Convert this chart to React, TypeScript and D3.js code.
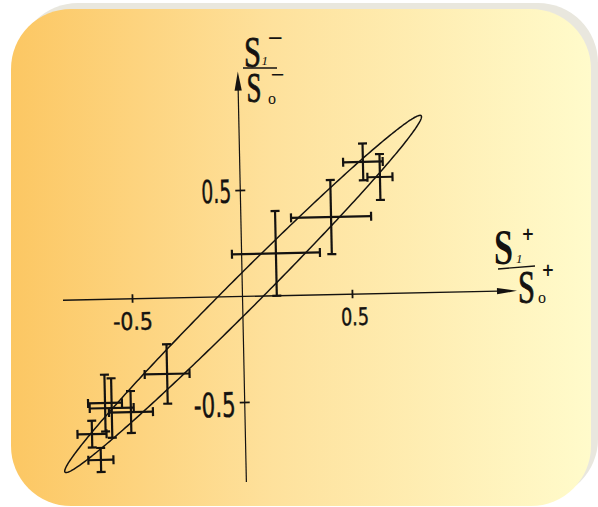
import React from 'react';
import * as d3 from 'd3';

// Tick values and their printed labels
const xTicks = [-0.5, 0.5];
const xTickLabels = ['-0.5', '0.5'];
const yTicks = [0.5, -0.5];
const yTickLabels = ['0.5', '-0.5'];

// Measured ratios S1+/S0+ (x) and S1-/S0- (y) with their errors
const pointX = [0.156, 0.41, 0.56, 0.636, -0.35, -0.635, -0.605, -0.518, -0.697, -0.659];
const pointY = [0.2, 0.366, 0.623, 0.55, -0.358, -0.489, -0.513, -0.534, -0.634, -0.757];
const errX = [0.2, 0.182, 0.09, 0.057, 0.102, 0.077, 0.1, 0.1, 0.066, 0.057];
const errY = [0.2, 0.175, 0.087, 0.108, 0.14, 0.134, 0.14, 0.099, 0.063, 0.057];

// Allowed region: ellipse given by centre, half major axis vector and half minor axis vector
const ellipseCenter = [0.003, 0.012];
const ellipseMajor = [0.826, 0.823];
const ellipseMinor = [0.05, -0.054];

// Axis extents (arrow tips at the positive ends)
const xAxisRange = [-0.816, 1.248];
const yAxisRange = [-0.875, 1.061];

const W = 598;
const H = 507;
const OX = 242.5;
const OY = 296.5;
const TILT = -1.2;

const x = d3.scaleLinear().domain([-1, 1]).range([OX - 220, OX + 220]);
const y = d3.scaleLinear().domain([-1, 1]).range([OY + 212, OY - 212]);

const ink = '#141210';
const digitFont = "'Liberation Sans Narrow', 'DejaVu Sans Condensed', 'Liberation Sans', sans-serif";
const letterFont = "'Liberation Serif', 'DejaVu Serif', serif";

export default function App() {
  const ts = d3.range(0, 361).map((d) => (d * Math.PI) / 180);
  const ellipsePts: [number, number][] = ts.map((t) => [
    ellipseCenter[0] + ellipseMajor[0] * Math.cos(t) + ellipseMinor[0] * Math.sin(t),
    ellipseCenter[1] + ellipseMajor[1] * Math.cos(t) + ellipseMinor[1] * Math.sin(t),
  ]);
  const ellipsePath = d3
    .line<[number, number]>()
    .x((d) => x(d[0]))
    .y((d) => y(d[1]))
    .curve(d3.curveLinearClosed)(ellipsePts) as string;

  const x0 = x(0);
  const y0 = y(0);
  const xTip = x(xAxisRange[1]);
  const yTip = y(yAxisRange[1]);
  const cap = 4.5;

  return (
    <svg
      width={W}
      height={H}
      viewBox={`0 0 ${W} ${H}`}
      style={{ position: 'absolute', left: 0, top: 0, display: 'block' }}
    >
      <defs>
        <linearGradient id="cardFill" x1="0" y1="0" x2="1" y2="0">
          <stop offset="0%" stopColor="#fcc763" />
          <stop offset="45%" stopColor="#fee19c" />
          <stop offset="100%" stopColor="#fffbcb" />
        </linearGradient>
      </defs>
      <rect x={0} y={0} width={W} height={H} fill="#ffffff" />
      <rect x={18} y={3} width={580} height={496} rx={60} fill="#e9e7de" />
      <rect x={11} y={9} width={580} height={497} rx={60} fill="url(#cardFill)" />

      <g transform={`rotate(${TILT}, ${OX}, ${OY})`}>
        {/* axes */}
        <line x1={x(xAxisRange[0])} y1={y0} x2={xTip - 6} y2={y0} stroke={ink} strokeWidth={1.3} />
        <path d={`M${xTip},${y0} L${xTip - 20},${y0 - 3.2} L${xTip - 20},${y0 + 3.2} Z`} fill={ink} />
        <line x1={x0} y1={y(yAxisRange[0])} x2={x0} y2={yTip + 6} stroke={ink} strokeWidth={1.2} />
        <path d={`M${x0},${yTip} L${x0 - 3.6},${yTip + 19} L${x0 + 3.6},${yTip + 19} Z`} fill={ink} />

        {/* ticks */}
        {xTicks.map((t, i) => (
          <g key={`xt${i}`}>
            <line x1={x(t)} y1={y0 - 4.5} x2={x(t)} y2={y0 + 4} stroke={ink} strokeWidth={1.8} />
            <text
              x={x(t) + (t > 0 ? 2 : 0)}
              y={y0 + 31}
              textAnchor="middle"
              fontFamily={digitFont}
              fontSize={24}
              textLength={xTickLabels[i].length === 4 ? 40 : 28}
              lengthAdjust="spacingAndGlyphs"
              fill={ink}
              stroke={ink}
              strokeWidth={0.4}
            >
              {xTickLabels[i]}
            </text>
          </g>
        ))}
        {yTicks.map((t, i) => (
          <g key={`yt${i}`}>
            <line x1={x0 - 5} y1={y(t)} x2={x0 + 5} y2={y(t)} stroke={ink} strokeWidth={1.8} />
            <text
              x={x0 - 9}
              y={y(t) + (t > 0 ? 12 : 14)}
              textAnchor="end"
              fontFamily={digitFont}
              fontSize={t > 0 ? 32 : 34}
              textLength={yTickLabels[i].length === 4 ? 42 : 30}
              lengthAdjust="spacingAndGlyphs"
              fill={ink}
              stroke={ink}
              strokeWidth={0.4}
            >
              {yTickLabels[i]}
            </text>
          </g>
        ))}

        {/* ellipse */}
        <path d={ellipsePath} fill="none" stroke={ink} strokeWidth={1.5} />

        {/* error crosses */}
        {pointX.map((px, i) => {
          const cx = x(px);
          const cy = y(pointY[i]);
          const xl = x(px - errX[i]);
          const xr = x(px + errX[i]);
          const yt = y(pointY[i] + errY[i]);
          const yb = y(pointY[i] - errY[i]);
          return (
            <g key={`p${i}`} stroke={ink} strokeWidth={2.2} strokeLinecap="butt">
              <line x1={cx} y1={yt} x2={cx} y2={yb} />
              <line x1={cx - cap} y1={yt} x2={cx + cap} y2={yt} />
              <line x1={cx - cap} y1={yb} x2={cx + cap} y2={yb} />
              <line x1={xl} y1={cy} x2={xr} y2={cy} />
              <line x1={xl} y1={cy - cap} x2={xl} y2={cy + cap} />
              <line x1={xr} y1={cy - cap} x2={xr} y2={cy + cap} />
            </g>
          );
        })}
      </g>

      {/* y axis title: S1- / S0- */}
      <g fill={ink} fontFamily={letterFont}>
        <text x={244} y={66.5} fontSize={44} textLength={17} lengthAdjust="spacingAndGlyphs" stroke={ink} strokeWidth={0.8}>S</text>
        <text x={267} y={45} fontSize={22} fontFamily={digitFont}>−</text>
        <text x={261.5} y={65} fontSize={13} fontStyle="italic">1</text>
        <line x1={243} y1={68} x2={277} y2={68} stroke={ink} strokeWidth={1.3} />
        <text x={246.5} y={101.7} fontSize={42} textLength={15} lengthAdjust="spacingAndGlyphs" stroke={ink} strokeWidth={0.8}>S</text>
        <text x={270} y={80.5} fontSize={20} fontFamily={digitFont}>−</text>
        <text x={268} y={103.5} fontSize={16}>o</text>
      </g>

      {/* x axis title: S1+ / S0+ */}
      <g fill={ink} fontFamily={letterFont}>
        <text x={494} y={264} fontSize={50} fontWeight="bold" textLength={19} lengthAdjust="spacingAndGlyphs">S</text>
        <text x={528} y={240} fontSize={17} textAnchor="middle" fontFamily={digitFont} fontWeight="bold">+</text>
        <text x={516} y={263} fontSize={13} fontStyle="italic">1</text>
        <line x1={498} y1={269} x2={535} y2={266} stroke={ink} strokeWidth={1.3} />
        <text x={518} y={303.3} fontSize={46} textLength={17} lengthAdjust="spacingAndGlyphs" stroke={ink} strokeWidth={0.8}>S</text>
        <text x={548} y={276} fontSize={17} textAnchor="middle" fontFamily={digitFont} fontWeight="bold">+</text>
        <text x={538} y={303} fontSize={16}>o</text>
      </g>
    </svg>
  );
}
